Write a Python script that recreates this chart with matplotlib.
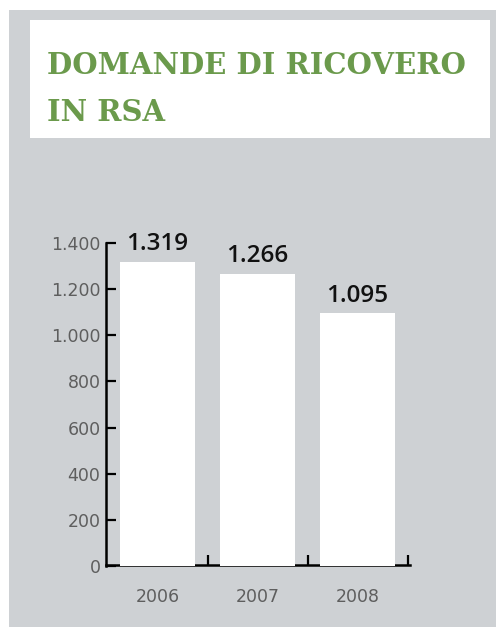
import matplotlib.pyplot as plt
from matplotlib.patches import Rectangle

# domande di ricovero in RSA, per anno
anni = ["2006", "2007", "2008"]
domande = [1319, 1266, 1095]
tick_y = [0, 200, 400, 600, 800, 1000, 1200, 1400]

grigio = "#ced1d4"
verde = "#6b9a4c"

W, H = 496, 627
fig = plt.figure(figsize=(W / 100, H / 100), dpi=100)
fig.patch.set_facecolor("white")

# pannello grigio di sfondo e riquadro bianco del titolo
fig.patches.append(Rectangle((9 / W, 0), 1, 1 - 10 / H, transform=fig.transFigure,
                             facecolor=grigio, edgecolor="none", zorder=-2))
fig.patches.append(Rectangle((30 / W, 1 - 138 / H), 460 / W, 118 / H, transform=fig.transFigure,
                             facecolor="white", edgecolor="none", zorder=-1))

fig.text(47 / W, 1 - 74 / H, "DOMANDE DI RICOVERO", color=verde, fontsize=21,
         fontweight="heavy", family="DejaVu Serif", va="baseline", ha="left")
fig.text(47 / W, 1 - 121 / H, "IN RSA", color=verde, fontsize=21,
         fontweight="heavy", family="DejaVu Serif", va="baseline", ha="left")

# assi: x in unità di barra (passo 100 px), y 0-1400
ax = fig.add_axes([106 / W, 1 - 566 / H, 304 / W, 323 / H])
ax.patch.set_visible(False)
x = range(len(anni))
ax.bar(x, domande, width=0.75, color="white", zorder=3)
ax.set_xlim(-0.515, 2.525)
ax.set_ylim(0, 1400)

for xi, v in zip(x, domande):
    ax.annotate(f"{v:,}".replace(",", "."), (xi, v), xytext=(0, 4), textcoords="offset points",
                ha="center", va="bottom", fontsize=17.5, fontweight="semibold",
                color="#111111", family="Open Sans", zorder=4)

for s in ["top", "right"]:
    ax.spines[s].set_visible(False)
for s in ["left", "bottom"]:
    ax.spines[s].set_linewidth(1.8)
    ax.spines[s].set_color("black")
ax.spines["bottom"].set_position(("outward", -1))

ax.set_yticks(tick_y, labels=[f"{t:,}".replace(",", ".") for t in tick_y])
ax.tick_params(axis="y", direction="in", length=7, width=1.6, pad=4,
               labelsize=12.5, labelcolor="#5e5e5e")

# tacche tra le barre, etichette degli anni al centro
ax.set_xticks([xi + 0.505 for xi in x], labels=[])
ax.tick_params(axis="x", which="major", direction="in", length=7, width=1.6)
ax.set_xticks(list(x), labels=anni, minor=True)
ax.tick_params(axis="x", which="minor", length=0, pad=17, labelsize=12.5, labelcolor="#5e5e5e")

fig.savefig("out.png", dpi=100)
